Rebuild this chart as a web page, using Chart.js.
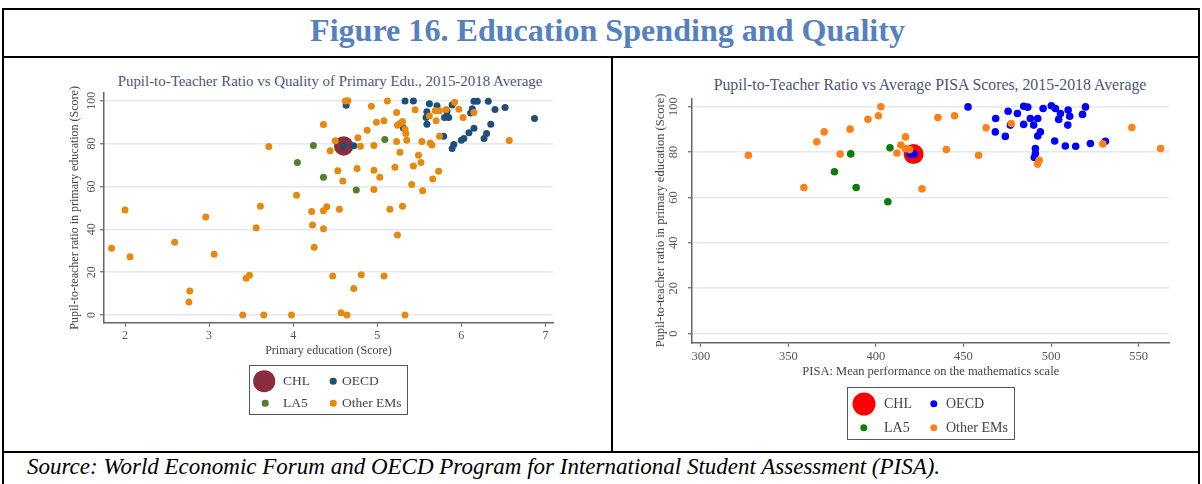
<!DOCTYPE html>
<html>
<head>
<meta charset="utf-8">
<script src="https://cdn.jsdelivr.net/npm/chart.js@4.4.1/dist/chart.umd.min.js"></script>
<style>
  body { margin: 0; background: #fff; }
  #page { position: relative; width: 1202px; height: 484px; overflow: hidden; background: #fff; font-family: "Liberation Serif", serif; }
  .line { position: absolute; background: #000; }
  canvas { position: absolute; }
  .ctitle { position: absolute; white-space: nowrap; color: #4b5677; transform: translate(-50%, -50%); }
  .legend { position: absolute; border: 1.5px solid #555; box-sizing: border-box; }
  .dot { position: absolute; border-radius: 50%; transform: translate(-50%, -50%); }
  .lab { position: absolute; white-space: nowrap; color: #444; transform: translateY(-50%); }
</style>
</head>
<body>
<div id="page">
  <div class="line" style="left:2px; top:8px; width:1198px; height:2px;"></div>
  <div class="line" style="left:2px; top:8px; width:2px; height:476px;"></div>
  <div class="line" style="left:1198px; top:8px; width:2px; height:476px;"></div>
  <div class="line" style="left:2px; top:56px; width:1198px; height:2px;"></div>
  <div class="line" style="left:2px; top:451px; width:1198px; height:2px;"></div>
  <div class="line" style="left:611px; top:56px; width:2px; height:397px;"></div>

  <div id="figTitle" style="position:absolute; left:0; top:13px; width:1215px; text-align:center; font-weight:bold; font-size:31px; line-height:36px; color:#5582bf; white-space:nowrap; transform:scaleX(1.035); transform-origin:607.5px 50%;">Figure 16. Education Spending and Quality</div>

  <div class="ctitle" style="left:330px; top:81px; font-size:14.9px;">Pupil-to-Teacher Ratio vs Quality of Primary Edu., 2015-2018 Average</div>
  <div class="ctitle" style="left:930px; top:85px; font-size:15.8px;">Pupil-to-Teacher Ratio vs Average PISA Scores, 2015-2018 Average</div>

  <canvas id="leftChart" width="606" height="392" style="left:4px; top:58px;"></canvas>
  <canvas id="rightChart" width="584" height="392" style="left:614px; top:58px;"></canvas>

  <div class="legend" style="left:249px; top:365px; width:159px; height:50px;"></div>
  <div class="dot" style="left:264px; top:381px; width:21.6px; height:21.6px; background:#8b2d3c;"></div>
  <div class="lab" style="left:283px; top:381px; font-size:13.5px;">CHL</div>
  <div class="dot" style="left:333px; top:381px; width:6.6px; height:6.6px; background:#1d4f7a;"></div>
  <div class="lab" style="left:342px; top:381px; font-size:13.5px;">OECD</div>
  <div class="dot" style="left:265px; top:403px; width:6.6px; height:6.6px; background:#527e2e;"></div>
  <div class="lab" style="left:283px; top:403px; font-size:13.5px;">LA5</div>
  <div class="dot" style="left:333px; top:403px; width:6.6px; height:6.6px; background:#e8890f;"></div>
  <div class="lab" style="left:342px; top:403px; font-size:13.5px;">Other EMs</div>

  <div class="legend" style="left:847px; top:387px; width:168px; height:53px;"></div>
  <div class="dot" style="left:864px; top:404px; width:23px; height:23px; background:#ff0000;"></div>
  <div class="lab" style="left:884px; top:404px; font-size:14px;">CHL</div>
  <div class="dot" style="left:934px; top:404px; width:7.4px; height:7.4px; background:#0000ff;"></div>
  <div class="lab" style="left:946px; top:404px; font-size:14px;">OECD</div>
  <div class="dot" style="left:864px; top:428px; width:7.4px; height:7.4px; background:#0a7d0a;"></div>
  <div class="lab" style="left:884px; top:428px; font-size:14px;">LA5</div>
  <div class="dot" style="left:934px; top:428px; width:7.4px; height:7.4px; background:#ff8118;"></div>
  <div class="lab" style="left:946px; top:428px; font-size:14px;">Other EMs</div>

  <div id="source" style="position:absolute; left:27px; top:454px; font-style:italic; font-size:23px; line-height:26px; color:#000; white-space:nowrap;">Source: World Economic Forum and OECD Program for International Student Assessment (PISA).</div>
</div>

<script>
// left panel: quality of primary education (x) vs pupil-to-teacher ratio score (y)
const leftXTicks = [2, 3, 4, 5, 6, 7];
const leftYTicks = [0, 20, 40, 60, 80, 100];
const leftCHL = [[4.60, 78.9]];
const leftOECD = [
  [4.63, 97.9], [4.60, 79.0], [4.72, 79.0], [5.33, 99.9], [5.43, 99.9], [5.62, 98.6], [5.71, 97.6],
  [5.89, 98.0], [6.15, 99.8], [6.19, 99.8], [6.32, 99.8], [6.13, 96.3], [6.11, 94.3], [6.40, 95.9],
  [6.52, 96.8], [6.87, 91.7], [5.59, 94.8], [5.58, 92.2], [5.59, 89.0], [5.80, 92.2], [5.85, 92.2],
  [5.83, 95.0], [6.35, 89.0], [6.15, 87.2], [6.09, 85.0], [6.03, 82.4], [6.00, 81.6], [6.30, 84.7],
  [6.27, 82.4], [5.91, 79.6], [5.89, 77.7], [5.79, 83.4], [5.31, 87.3]
];
const leftLA5 = [[4.05, 71.2], [4.24, 79.1], [4.36, 64.3], [4.75, 58.3], [5.09, 81.9]];
const leftOther = [
  [2.00, 49.0], [2.96, 45.7], [3.71, 78.6], [3.61, 50.8], [3.56, 40.7], [4.04, 55.9], [4.36, 88.9],
  [4.22, 48.3], [4.23, 42.0], [4.36, 48.6], [4.40, 50.5], [4.36, 40.2], [4.50, 81.3], [4.44, 76.6],
  [4.53, 67.3], [4.59, 62.5], [4.55, 49.3], [4.62, 99.9], [4.65, 100.0], [4.77, 82.7], [4.80, 78.7],
  [4.76, 68.4], [4.93, 97.4], [5.12, 99.9], [6.57, 81.4], [5.45, 95.8], [5.62, 92.9], [5.69, 95.3],
  [5.74, 95.3], [5.70, 90.6], [5.82, 95.9], [5.92, 99.3], [5.97, 96.0], [6.02, 92.2], [6.15, 94.5],
  [5.74, 83.4], [4.88, 86.2], [4.99, 90.0], [5.08, 90.6], [4.96, 79.1], [5.23, 94.5], [5.24, 88.6],
  [5.27, 89.4], [5.30, 90.3], [5.33, 86.7], [5.34, 84.7], [5.35, 81.6], [5.23, 81.0], [5.27, 75.9],
  [5.53, 81.0], [5.63, 80.3], [5.65, 79.3], [5.49, 74.6], [5.52, 71.2], [5.21, 69.0], [5.43, 69.5],
  [4.96, 67.6], [5.03, 64.3], [4.96, 58.6], [5.41, 60.9], [5.54, 58.0], [5.66, 63.5], [5.73, 67.1],
  [5.15, 49.3], [5.30, 50.8], [5.24, 37.3], [1.84, 31.1], [2.06, 27.2], [2.59, 34.0], [3.06, 28.3],
  [2.77, 11.2], [2.76, 6.1], [3.40, 0.0], [3.44, 17.1], [3.48, 18.6], [3.65, 0.0], [3.98, 0.0],
  [4.25, 31.6], [4.47, 18.2], [4.57, 1.1], [4.64, 0.0], [4.72, 12.4], [4.81, 18.8], [5.08, 18.2],
  [5.33, 0.0]
];

// right panel: PISA mathematics mean score (x) vs pupil-to-teacher ratio score (y)
const rightXTicks = [300, 350, 400, 450, 500, 550];
const rightYTicks = [0, 20, 40, 60, 80, 100];
const rightCHL = [[421.5, 79.1]];
const rightOECD = [
  [419.6, 79.0], [421.9, 79.1], [452.6, 99.9], [468.4, 94.8], [475.5, 98.0], [480.8, 97.0],
  [484.4, 100.2], [486.7, 99.8], [468.2, 88.9], [473.9, 86.9], [476.8, 91.9], [484.4, 92.2],
  [488.2, 94.8], [492.4, 94.8], [490.1, 91.9], [493.9, 88.9], [492.4, 87.1], [495.5, 99.2],
  [500.2, 100.4], [502.5, 99.2], [505.4, 97.0], [504.4, 94.4], [509.8, 98.5], [510.7, 95.8],
  [509.6, 91.9], [519.7, 99.9], [518.0, 96.6], [491.1, 81.6], [491.1, 79.4], [490.5, 77.6],
  [502.1, 84.9], [508.2, 82.7], [514.1, 82.6], [522.5, 83.8], [531.1, 84.8]
];
const rightLA5 = [[376.3, 71.3], [385.6, 79.2], [388.7, 64.4], [406.8, 58.1], [408.0, 81.9]];
const rightOther = [
  [327.1, 78.6], [358.8, 64.4], [366.2, 84.5], [370.4, 88.9], [379.5, 79.1], [385.2, 90.1],
  [395.4, 94.5], [401.4, 96.0], [402.8, 100.0], [416.9, 86.7], [414.2, 83.1], [416.7, 81.6],
  [419.2, 81.1], [412.0, 79.6], [426.3, 63.8], [435.4, 95.2], [444.9, 96.0], [462.9, 90.7],
  [440.2, 81.1], [458.6, 78.6], [477.3, 92.6], [493.2, 76.4], [492.4, 74.7], [529.6, 83.6],
  [546.2, 90.8], [562.6, 81.6]
];

const serif = "'Liberation Serif', serif";
const toPts = arr => arr.map(p => ({ x: p[0], y: p[1] }));

function ds(label, pts, color, r, order) {
  return {
    label, data: toPts(pts), order,
    pointRadius: r, pointHoverRadius: r,
    backgroundColor: color, borderColor: color, borderWidth: 0,
    showLine: false
  };
}

function makeChart(id, o) {
  return new Chart(document.getElementById(id), {
    type: 'scatter',
    data: { datasets: o.datasets },
    options: {
      responsive: false,
      animation: false,
      devicePixelRatio: 1,
      layout: { padding: o.padding },
      plugins: { legend: { display: false }, tooltip: { enabled: false }, title: { display: false } },
      scales: {
        x: {
          type: 'linear', min: o.xMin, max: o.xMax,
          afterBuildTicks: s => { s.ticks = o.xTicks.map(v => ({ value: v })); },
          afterFit: s => { s.height = 60; },
          grid: { drawOnChartArea: false, tickColor: '#666', tickLength: 4, tickWidth: 1.2 },
          border: { color: '#666', width: 1.5 },
          ticks: { padding: o.xTickPad, color: '#555', font: { family: serif, size: o.tickSize }, autoSkip: false, maxRotation: 0 },
          title: { display: true, text: o.xTitle, color: '#444', font: { family: serif, size: o.titleSize }, padding: { top: 0, bottom: o.xTitlePad } }
        },
        y: {
          type: 'linear', min: o.yMin, max: o.yMax,
          afterBuildTicks: s => { s.ticks = o.yTicks.map(v => ({ value: v })); },
          afterFit: s => { s.width = o.yWidth; },
          grid: { color: '#e2eaf0', lineWidth: 1.5, tickColor: '#666', tickLength: 4, tickWidth: 1.2 },
          border: { color: '#666', width: 1.5 },
          ticks: { minRotation: 90, maxRotation: 90, crossAlign: 'center', padding: o.yTickPad, color: '#555', font: { family: serif, size: o.tickSize }, autoSkip: false },
          title: { display: true, text: o.yTitle, color: '#444', font: { family: serif, size: o.titleSize }, padding: { top: o.yTitlePad, bottom: 0 } }
        }
      }
    }
  });
}

makeChart('leftChart', {
  datasets: [
    ds('Other EMs', leftOther, '#e8890f', 3.5, 0),
    ds('LA5', leftLA5, '#527e2e', 3.5, 1),
    ds('OECD', leftOECD, '#1d4f7a', 3.5, 2),
    ds('CHL', leftCHL, '#8b2d3c', 9.7, 3)
  ],
  padding: { left: 0, top: 35, right: 57, bottom: 67.3 },
  xMin: 1.75, xMax: 7.09, yMin: -3.6, yMax: 103.6,
  xTicks: leftXTicks, yTicks: leftYTicks,
  yWidth: 100, tickSize: 12, titleSize: 12,
  xTickPad: 2, yTickPad: -1, xTitlePad: 24.5, yTitlePad: 63.8,
  xTitle: 'Primary education (Score)',
  yTitle: 'Pupil-to-teacher ratio in primary education (Score)'
});

makeChart('rightChart', {
  datasets: [
    ds('Other EMs', rightOther, '#ff8118', 3.8, 0),
    ds('LA5', rightLA5, '#0a7d0a', 3.8, 1),
    ds('OECD', rightOECD, '#0000ff', 3.8, 2),
    ds('CHL', rightCHL, '#ff0000', 10, 3)
  ],
  padding: { left: 0, top: 40.3, right: 28.5, bottom: 47.3 },
  xMin: 294.9, xMax: 567.7, yMin: -4, yMax: 103.7,
  xTicks: rightXTicks, yTicks: rightYTicks,
  yWidth: 78, tickSize: 12.5, titleSize: 12.5,
  xTickPad: 2.5, yTickPad: 5, xTitlePad: 23.5, yTitlePad: 39.2,
  xTitle: 'PISA: Mean performance on the mathematics scale',
  yTitle: 'Pupil-to-teacher ratio in primary education (Score)'
});
</script>
</body>
</html>
